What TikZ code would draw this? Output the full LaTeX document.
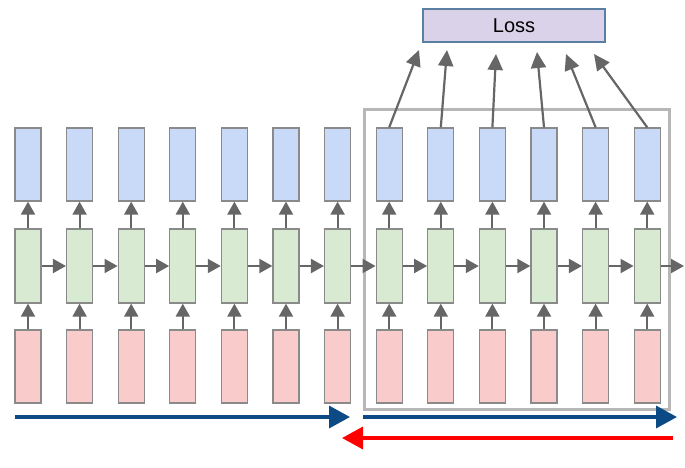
\documentclass[tikz,border=0pt]{standalone}
\usepackage{fontspec}
\setmainfont{Liberation Sans}
\usetikzlibrary{arrows.meta}
\definecolor{bfill}{HTML}{C9DAF8}
\definecolor{gfill}{HTML}{D9EAD3}
\definecolor{rfill}{HTML}{F9CBCB}
\definecolor{boxline}{HTML}{8A8A8A}
\definecolor{arrgray}{HTML}{666666}
\definecolor{lossfill}{HTML}{D9D2E9}
\definecolor{lossline}{HTML}{5B7FA3}
\definecolor{fwdblue}{HTML}{0B4A85}
\definecolor{bwdred}{HTML}{FF0000}
\definecolor{framegray}{HTML}{B7B7B7}
\tikzset{
  cellbox/.style={draw=boxline, line width=1.3pt, minimum width=26pt, inner sep=0pt},
  outbox/.style={cellbox, fill=bfill, minimum height=73pt},
  hidbox/.style={cellbox, fill=gfill, minimum height=74pt},
  inbox/.style={cellbox, fill=rfill, minimum height=73pt},
  smallarr/.style={draw=arrgray, fill=arrgray, line width=2pt, -{Triangle[length=13pt,width=14pt]}},
  lossarr/.style={draw=arrgray, fill=arrgray, line width=2.2pt, -{Triangle[length=16pt,width=15pt]}},
  bigarr/.style={line width=3.5pt, -{Triangle[length=21pt,width=22pt]}},
  lossbox/.style={draw=lossline, line width=1.5pt, fill=lossfill, minimum width=182pt, minimum height=33pt, inner sep=0pt, font=\fontsize{20pt}{24pt}\selectfont},
  framebox/.style={draw=framegray, line width=3pt}
}
\begin{document}
\begin{tikzpicture}[x=1pt,y=-1pt]
\useasboundingbox (0,0) rectangle (685,467);
% frame
\draw[framebox] (364,109) rectangle (669,409);
\node[lossbox] (loss) at (514,25.5) {Loss};
\foreach \i in {0,...,12} {
  \pgfmathsetmacro{\cx}{28+51.6*\i}
  \node[outbox] (o\i) at (\cx,164.5) {};
  \node[hidbox] (h\i) at (\cx,266) {};
  \node[inbox] (x\i) at (\cx,366.5) {};
  \draw[smallarr] (h\i.north) -- (o\i.south);
  \draw[smallarr] (x\i.north) -- (h\i.south);
}
\foreach \i [evaluate=\i as \j using int(\i+1)] in {0,...,11} {
  \draw[smallarr] (h\i.east) -- (h\j.west);
}
\coordinate (hend) at (684,266);
\draw[smallarr] (h12.east) -- (hend);
% loss arrows
\coordinate (l7) at (419,50);
\coordinate (l8) at (447,50);
\coordinate (l9) at (496,54);
\coordinate (l10) at (537,52);
\coordinate (l11) at (566,54);
\coordinate (l12) at (594,54);
\foreach \i in {7,...,12} {
  \draw[lossarr] (o\i.north) -- (l\i);
}
% bottom arrows
\coordinate (f1s) at (15,417);
\coordinate (f1e) at (350,417);
\coordinate (f2s) at (363,417);
\coordinate (f2e) at (677,417);
\coordinate (bs) at (673,438);
\coordinate (be) at (342,438);
\draw[bigarr, draw=fwdblue, fill=fwdblue] (f1s) -- (f1e);
\draw[bigarr, draw=fwdblue, fill=fwdblue] (f2s) -- (f2e);
\draw[bigarr, draw=bwdred, fill=bwdred] (bs) -- (be);
\end{tikzpicture}
\end{document}
